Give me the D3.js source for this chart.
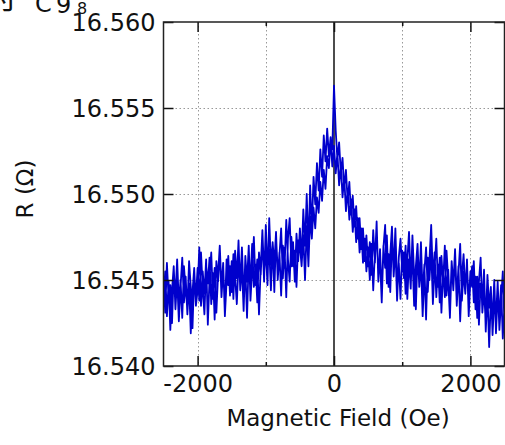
<!DOCTYPE html>
<html><head><meta charset="utf-8">
<script src="https://cdn.jsdelivr.net/npm/d3@7"></script>
<style>
html,body{margin:0;padding:0;background:#fff;}
svg{display:block;}
text{font-family:"DejaVu Sans",sans-serif;fill:#111;}
</style></head>
<body>
<svg id="chart" width="505" height="445"></svg>
<script>
// ---------- data ----------
const fieldOe = [
-2500,-2475,-2450,-2425,-2400,-2375,-2350,-2325,-2300,-2275,-2250,-2225,-2200,-2175,-2150,-2125,-2100,-2075,-2050,-2025,
-2000,-1975,-1950,-1925,-1900,-1875,-1850,-1825,-1800,-1775,-1750,-1725,-1700,-1675,-1650,-1625,-1600,-1575,-1550,-1525,
-1500,-1475,-1450,-1425,-1400,-1375,-1350,-1325,-1300,-1275,-1250,-1225,-1200,-1175,-1150,-1125,-1100,-1075,-1050,-1025,
-1000,-975,-950,-925,-900,-875,-850,-825,-800,-775,-750,-725,-700,-675,-650,-625,-600,-575,-550,-525,
-500,-475,-450,-425,-400,-375,-350,-325,-300,-275,-250,-225,-200,-175,-150,-125,-100,-75,-50,-25,
0,
25,50,75,100,125,150,175,200,225,250,275,300,325,350,375,400,425,450,475,500,
525,550,575,600,625,650,675,700,725,750,775,800,825,850,875,900,925,950,975,1000,
1025,1050,1075,1100,1125,1150,1175,1200,1225,1250,1275,1300,1325,1350,1375,1400,1425,1450,1475,1500,
1525,1550,1575,1600,1625,1650,1675,1700,1725,1750,1775,1800,1825,1850,1875,1900,1925,1950,1975,2000,
2025,2050,2075,2100,2125,2150,2175,2200,2225,2250,2275,2300,2325,2350,2375,2400,2425,2450,2475,2500
];
// sweep 1 (sharp peak at zero)
const resistanceSweep1 = [
16.5452,16.5431,16.5460,16.5439,16.5447,16.5425,16.5455,16.5441,16.5462,16.5436,16.5450,16.5428,16.5458,16.5444,16.5433,16.5461,16.5446,16.5422,16.5453,16.5440,
16.5457,16.5438,16.5466,16.5445,16.5430,16.5459,16.5448,16.5463,16.5436,16.5454,16.5427,16.5461,16.5449,16.5468,16.5440,16.5456,16.5433,16.5462,16.5447,16.5458,
16.5443,16.5465,16.5452,16.5436,16.5460,16.5448,16.5469,16.5441,16.5457,16.5428,16.5463,16.5450,16.5471,16.5446,16.5459,16.5437,16.5466,16.5453,16.5474,16.5449,
16.5482,16.5455,16.5468,16.5444,16.5472,16.5459,16.5478,16.5450,16.5466,16.5441,16.5470,16.5457,16.5485,16.5462,16.5449,16.5475,16.5458,16.5467,16.5446,16.5473,
16.5470,16.5458,16.5476,16.5450,16.5481,16.5458,16.5487,16.5474,16.5492,16.5480,16.5498,16.5489,16.5507,16.5496,16.5514,16.5503,16.5522,16.5515,16.5531,16.5526,
16.5563,
16.5537,16.5520,16.5530,16.5512,16.5521,16.5503,16.5514,16.5496,16.5507,16.5488,16.5499,16.5481,16.5493,16.5474,16.5486,16.5468,16.5480,16.5461,16.5476,16.5458,
16.5472,16.5453,16.5479,16.5460,16.5484,16.5449,16.5468,16.5441,16.5470,16.5457,16.5476,16.5446,16.5465,16.5481,16.5452,16.5469,16.5438,16.5463,16.5474,16.5455,
16.5466,16.5442,16.5461,16.5478,16.5449,16.5464,16.5435,16.5458,16.5471,16.5446,16.5460,16.5429,16.5455,16.5469,16.5443,16.5462,16.5482,16.5451,16.5466,16.5440,
16.5459,16.5437,16.5464,16.5448,16.5470,16.5441,16.5456,16.5432,16.5461,16.5447,16.5468,16.5439,16.5458,16.5426,16.5452,16.5465,16.5443,16.5460,16.5436,16.5455,
16.5446,16.5461,16.5433,16.5452,16.5424,16.5448,16.5437,16.5456,16.5420,16.5443,16.5411,16.5439,16.5428,16.5450,16.5419,16.5441,16.5430,16.5447,16.5416,16.5436
];
// sweep 2 (broader peak slightly below zero)
const resistanceSweep2 = [
16.5438,16.5455,16.5429,16.5449,16.5421,16.5444,16.5458,16.5433,16.5451,16.5426,16.5446,16.5463,16.5437,16.5452,16.5430,16.5448,16.5419,16.5443,16.5457,16.5435,
16.5444,16.5469,16.5435,16.5455,16.5442,16.5462,16.5424,16.5451,16.5466,16.5439,16.5457,16.5431,16.5453,16.5470,16.5445,16.5460,16.5429,16.5449,16.5464,16.5441,
16.5461,16.5439,16.5467,16.5451,16.5473,16.5444,16.5458,16.5432,16.5464,16.5449,16.5470,16.5438,16.5456,16.5475,16.5447,16.5462,16.5430,16.5457,16.5479,16.5453,
16.5468,16.5447,16.5486,16.5459,16.5471,16.5443,16.5476,16.5455,16.5464,16.5480,16.5451,16.5469,16.5440,16.5474,16.5486,16.5458,16.5472,16.5449,16.5477,16.5461,
16.5480,16.5462,16.5491,16.5470,16.5500,16.5468,16.5505,16.5479,16.5510,16.5494,16.5518,16.5502,16.5526,16.5510,16.5534,16.5519,16.5538,16.5522,16.5533,16.5516,
16.5528,
16.5512,16.5524,16.5505,16.5517,16.5498,16.5510,16.5490,16.5503,16.5485,16.5497,16.5478,16.5491,16.5472,16.5486,16.5466,16.5480,16.5460,16.5474,16.5455,16.5469,
16.5450,16.5471,16.5444,16.5466,16.5478,16.5453,16.5462,16.5437,16.5469,16.5482,16.5448,16.5465,16.5443,16.5474,16.5456,16.5480,16.5447,16.5460,16.5439,16.5467,
16.5451,16.5470,16.5439,16.5462,16.5445,16.5476,16.5453,16.5433,16.5465,16.5448,16.5472,16.5441,16.5459,16.5427,16.5463,16.5450,16.5468,16.5436,16.5457,16.5474,
16.5446,16.5463,16.5431,16.5457,16.5440,16.5467,16.5450,16.5428,16.5459,16.5444,16.5466,16.5435,16.5454,16.5471,16.5438,16.5455,16.5442,16.5462,16.5429,16.5450,
16.5458,16.5437,16.5452,16.5428,16.5449,16.5463,16.5431,16.5444,16.5425,16.5453,16.5434,16.5446,16.5418,16.5440,16.5427,16.5449,16.5421,16.5438,16.5455,16.5423
];
const xTicks = [-2000, -1000, 0, 1000, 2000];
const xTickLabels = ["-2000", "", "0", "", "2000"];
const yTicks = [16.540, 16.545, 16.550, 16.555, 16.560];
const yTickLabels = ["16.540", "16.545", "16.550", "16.555", "16.560"];
const xTitle = "Magnetic Field (Oe)";
const yTitle = "R (Ω)";

// ---------- layout ----------
const L = 163.5, R = 504.5, T = 22, B = 366;
const svg = d3.select("#chart");
const x = d3.scaleLinear().domain([-2500, 2500]).range([L, R]);
const y = d3.scaleLinear().domain([16.540, 16.560]).range([B, T]);

// clipped title fragments at top-left
svg.append("text").attr("x", -13).attr("y", 8).style("font-family", "'Noto Sans CJK JP'").style("font-size", "30px").text("付");
svg.append("text").attr("x", 35).attr("y", 12).style("font-size", "24px").text("C");
svg.append("text").attr("x", 56).attr("y", 13).style("font-size", "24px").text("9");
svg.append("text").attr("x", 77).attr("y", 14).style("font-size", "16px").text("8");

// grid
const grid = svg.append("g").attr("stroke", "#999").attr("stroke-width", 1).attr("stroke-dasharray", "1.5,2.5");
grid.selectAll("line.gx").data(xTicks.filter(d => d !== 0)).join("line")
  .attr("x1", d => Math.round(x(d)) + 0.5).attr("x2", d => Math.round(x(d)) + 0.5)
  .attr("y1", T).attr("y2", B);
grid.selectAll("line.gy").data(yTicks.slice(1, -1)).join("line")
  .attr("x1", L).attr("x2", R)
  .attr("y1", d => Math.round(y(d)) + 0.5).attr("y2", d => Math.round(y(d)) + 0.5);

// zero line
svg.append("line").attr("x1", x(0)).attr("x2", x(0)).attr("y1", T).attr("y2", B)
  .attr("stroke", "#111").attr("stroke-width", 1.5);

// data line (sweep 1 then sweep 2 back)
const pts = fieldOe.map((f, i) => [f, resistanceSweep1[i]])
  .concat(fieldOe.map((f, i) => [f, resistanceSweep2[i]]).reverse());
svg.append("clipPath").attr("id", "pc").append("rect")
  .attr("x", L).attr("y", T).attr("width", R - L).attr("height", B - T);
svg.append("path").datum(pts)
  .attr("clip-path", "url(#pc)")
  .attr("fill", "none").attr("stroke", "#0000cc").attr("stroke-width", 1.8)
  .attr("stroke-linejoin", "round")
  .attr("d", d3.line().x(d => x(d[0])).y(d => y(d[1])));

// axes: inner ticks
const tickLen = d => (d % 2000 === 0 ? 10 : 4);
const axB = d3.axisBottom(x).tickValues(xTicks).tickSize(0).tickFormat((d, i) => xTickLabels[i]);
const gB = svg.append("g").attr("transform", `translate(0,${B})`).call(axB);
gB.select(".domain").remove();
gB.selectAll(".tick text").attr("dy", 0).attr("y", 26).style("font-size", "24px").style("font-family", "'DejaVu Sans',sans-serif").attr("fill", "#111");
gB.selectAll(".tick").append("line").attr("y1", 0).attr("y2", d => -tickLen(d)).attr("stroke", "#111").attr("stroke-width", 1.5);

const gT = svg.append("g").attr("transform", `translate(0,${T})`).call(d3.axisTop(x).tickValues(xTicks).tickSize(0).tickFormat(""));
gT.select(".domain").remove();
gT.selectAll(".tick").append("line").attr("y1", 0).attr("y2", d => tickLen(d)).attr("stroke", "#111").attr("stroke-width", 1.5);

const axL = d3.axisLeft(y).tickValues(yTicks).tickSize(0).tickFormat((d, i) => yTickLabels[i]);
const gL = svg.append("g").attr("transform", `translate(${L},0)`).call(axL);
gL.select(".domain").remove();
gL.selectAll(".tick text").attr("x", -8).attr("dy", "0.36em").style("font-size", "24px").style("font-family", "'DejaVu Sans',sans-serif").attr("fill", "#111");
gL.selectAll(".tick").append("line").attr("x1", 0).attr("x2", 10).attr("stroke", "#111").attr("stroke-width", 1.5);

const gR = svg.append("g").attr("transform", `translate(${R},0)`).call(d3.axisRight(y).tickValues(yTicks).tickSize(0).tickFormat(""));
gR.select(".domain").remove();
gR.selectAll(".tick").append("line").attr("x1", 0).attr("x2", -10).attr("stroke", "#111").attr("stroke-width", 1.5);

// frame
svg.append("rect").attr("x", L).attr("y", T).attr("width", R - L).attr("height", B - T)
  .attr("fill", "none").attr("stroke", "#222").attr("stroke-width", 1.5);

// titles
svg.append("text").attr("x", 338).attr("y", 426).attr("text-anchor", "middle").style("font-size", "23px").text(xTitle);
svg.append("text").attr("transform", "translate(33,189) rotate(-90)").attr("text-anchor", "middle").style("font-size", "23px").text(yTitle);
</script>
</body></html>
